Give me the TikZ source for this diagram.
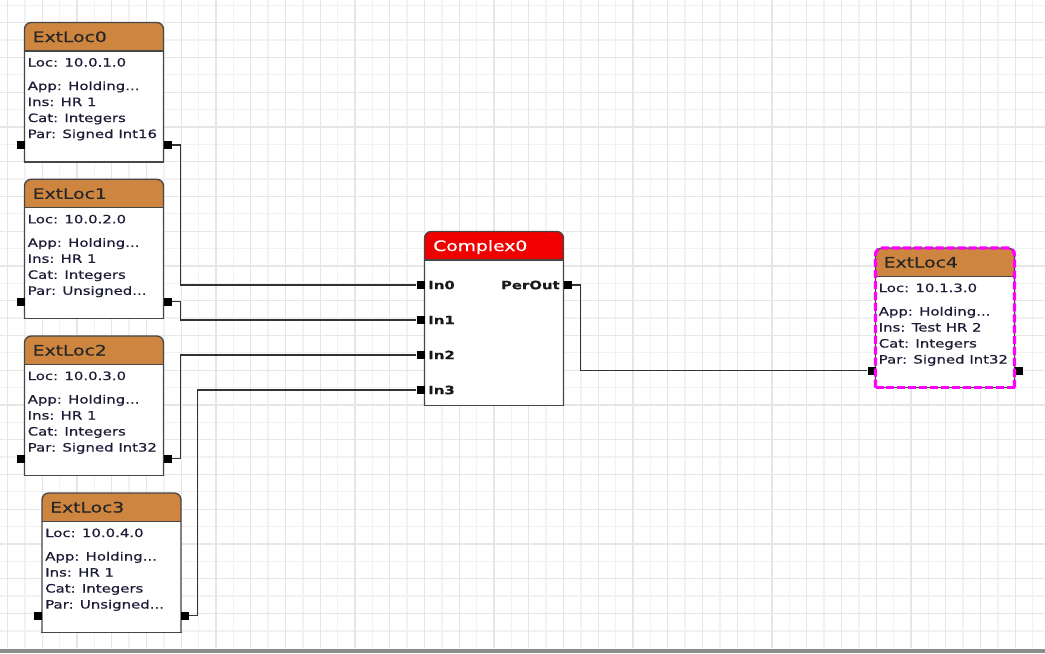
\documentclass[tikz,border=0pt]{standalone}
\usepackage{fontspec}
\newfontfamily\diagfont[FakeStretch=1.3,FakeBold=0.6]{DejaVu Sans}
\newfontfamily\diagtitle[FakeStretch=1.3,FakeBold=0.4]{DejaVu Sans}
\definecolor{hdr}{RGB}{205,133,63}
\definecolor{framec}{RGB}{70,70,70}
\definecolor{txt}{RGB}{28,28,55}
\definecolor{gridminor}{RGB}{242,242,242}
\definecolor{gridmajor}{RGB}{230,230,230}
\definecolor{wirec}{RGB}{50,50,50}
\definecolor{cred}{RGB}{240,0,0}
\definecolor{selc}{RGB}{255,0,255}
\tikzset{
  framed/.style={draw=framec, line width=1pt},
  port/.style={fill=black, draw=none, minimum size=6pt, inner sep=0pt},
  wire/.style={draw=wirec, line width=1pt},
  bodytxt/.style={anchor=base west, inner sep=0pt, text=txt, font=\diagfont\fontsize{8.6pt}{10pt}\selectfont},
  titletxt/.style={anchor=base west, inner sep=0pt, text=black!85, font=\diagtitle\fontsize{10.8pt}{12pt}\selectfont},
  pinlbl/.style={inner sep=0pt, text=black!90, font=\diagfont\bfseries\fontsize{8.6pt}{10pt}\selectfont},
}
\newcommand{\locbox}[9]{%
  \node[inner sep=0pt, minimum width=104.25pt, minimum height=104.6pt, anchor=north west] (#1) at (#2,#3) {};
  \fill[white, rounded corners=5pt] (#2,#3+139.5) -- (#2,#3) -- (#2+139,#3) -- (#2+139,#3+139.5);
  \fill[hdr, rounded corners=5pt] (#2,#3+28.5) -- (#2,#3) -- (#2+139,#3) -- (#2+139,#3+28.5);
  \draw[framed] (#2,#3+28.5) -- (#2+139,#3+28.5);
  \draw[framed, rounded corners=5pt] (#2,#3+139.5) -- (#2,#3) -- (#2+139,#3) -- (#2+139,#3+139.5);
  \draw[framed, line cap=rect] (#2,#3+139.5) -- (#2+139,#3+139.5);
  \node[port] (#1-l) at (#2-4,#3+122.5) {};
  \node[port] (#1-r) at (#2+143,#3+122.5) {};
  \node[titletxt] (#1-t) at (#2+8,#3+19.5) {#4};
  \node[bodytxt] (#1-a) at (#2+3,#3+44) {#5};
  \node[bodytxt] (#1-b) at (#2+3,#3+67.5) {#6};
  \node[bodytxt] (#1-c) at (#2+3,#3+83.5) {#7};
  \node[bodytxt] (#1-d) at (#2+3,#3+99.5) {#8};
  \node[bodytxt] (#1-e) at (#2+3,#3+115.5) {#9};
}
\begin{document}
\begin{tikzpicture}[x=0.75pt,y=-0.75pt]
\useasboundingbox (0,0) rectangle (1045,653);
\fill[white] (0,0) rectangle (1045,653);
% grid
\foreach \k in {0,...,59} \draw[gridminor, line width=1pt] ({7.5+17.375*\k},0) -- ({7.5+17.375*\k},648);
\foreach \k in {-1,...,35} \draw[gridminor, line width=1pt] (0,{22.7+17.375*\k}) -- (1045,{22.7+17.375*\k});
\foreach \k in {0,2,...,58} \draw[gridmajor, line width=1pt] ({7.5+17.375*\k},0) -- ({7.5+17.375*\k},648);
\foreach \k in {0,2,...,34} \draw[gridmajor, line width=1pt] (0,{22.7+17.375*\k}) -- (1045,{22.7+17.375*\k});
\fill[black!45] (0,649) rectangle (1045,653);

% boxes
\locbox{e0}{24.5}{22.5}{ExtLoc0}{Loc: 10.0.1.0}{App: Holding...}{Ins: HR 1}{Cat: Integers}{Par: Signed Int16}
\locbox{e1}{24.5}{179.3}{ExtLoc1}{Loc: 10.0.2.0}{App: Holding...}{Ins: HR 1}{Cat: Integers}{Par: Unsigned...}
\locbox{e2}{24.5}{336}{ExtLoc2}{Loc: 10.0.3.0}{App: Holding...}{Ins: HR 1}{Cat: Integers}{Par: Signed Int32}
\locbox{e3}{42}{493}{ExtLoc3}{Loc: 10.0.4.0}{App: Holding...}{Ins: HR 1}{Cat: Integers}{Par: Unsigned...}
\locbox{e4}{875.5}{248}{ExtLoc4}{Loc: 10.1.3.0}{App: Holding...}{Ins: Test HR 2}{Cat: Integers}{Par: Signed Int32}
\draw[selc, line width=2.4pt, dash pattern=on 6pt off 2.2pt, rounded corners=5pt] (875.5,387.5) -- (875.5,248) -- (1014.5,248) -- (1014.5,387.5);
\draw[selc, line width=2.4pt, dash pattern=on 6pt off 2.2pt] (875.5,387.5) -- (1014.5,387.5);

% complex block
\node[inner sep=0pt, minimum width=104.25pt, minimum height=130.5pt, anchor=north west] (c0) at (424.5,231.5) {};
\fill[white, rounded corners=5pt] (424.5,405.5) -- (424.5,231.5) -- (563.5,231.5) -- (563.5,405.5);
\fill[cred, rounded corners=5pt] (424.5,260) -- (424.5,231.5) -- (563.5,231.5) -- (563.5,260);
\draw[framed] (424.5,260) -- (563.5,260);
\draw[framed, rounded corners=5pt] (424.5,405.5) -- (424.5,231.5) -- (563.5,231.5) -- (563.5,405.5);
\draw[framed, line cap=rect] (424.5,405.5) -- (563.5,405.5);
\node[titletxt, text=white] (c0-t) at (433,251) {Complex0};
\node[port] (in0) at (420.5,285) {};
\node[port] (in1) at (420.5,320) {};
\node[port] (in2) at (420.5,355) {};
\node[port] (in3) at (420.5,390) {};
\node[port] (pout) at (567.5,285) {};
\node[pinlbl, anchor=base west] (l0) at (428,289.2) {In0};
\node[pinlbl, anchor=base west] (l1) at (428,324.2) {In1};
\node[pinlbl, anchor=base west] (l2) at (428,359.2) {In2};
\node[pinlbl, anchor=base west] (l3) at (428,394.2) {In3};
\node[pinlbl, anchor=base east] (lo) at (560,289.2) {PerOut};

% connectors
\draw[wire] (e0-r.east) -- ++(8.5,0) |- (in0.west);
\draw[wire] (e1-r.east) -- ++(8.5,0) |- (in1.west);
\draw[wire] (e2-r.east) -- ++(8.5,0) |- (in2.west);
\draw[wire] (e3-r.east) -- ++(8.5,0) |- (in3.west);
\draw[wire] (pout.east) -- ++(8.5,0) |- (e4-l.west);
\end{tikzpicture}
\end{document}
